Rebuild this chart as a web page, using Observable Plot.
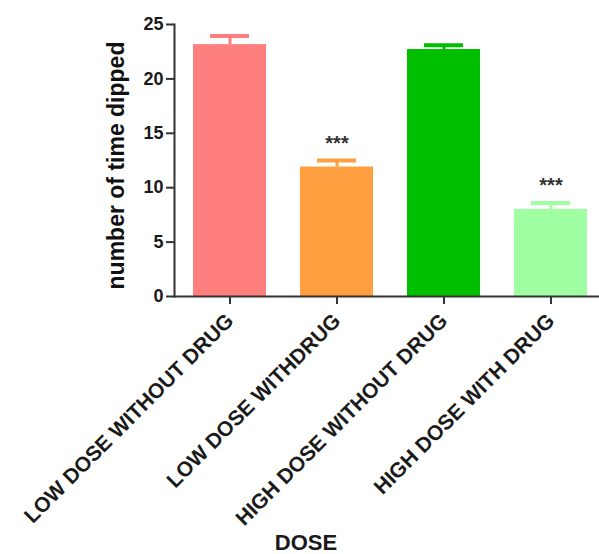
<!DOCTYPE html>
<html>
<head>
<meta charset="utf-8">
<script src="https://cdn.jsdelivr.net/npm/d3@7"></script>
<script src="https://cdn.jsdelivr.net/npm/@observablehq/plot@0.6"></script>
<style>
  html, body { margin: 0; padding: 0; background: #fff; }
  #chart { width: 599px; height: 554px; }
</style>
</head>
<body>
<div id="chart"></div>
<script>
const categories = ["LOW DOSE WITHOUT DRUG", "LOW DOSE WITHDRUG", "HIGH DOSE WITHOUT DRUG", "HIGH DOSE WITH DRUG"];
const means = [23.15, 11.9, 22.7, 8.0];
const sems = [0.8, 0.6, 0.4, 0.6];
const significance = ["", "***", "", "***"];
const yTicks = [0, 5, 10, 15, 20, 25];
const yLabel = "number of time dipped";
const xLabel = "DOSE";

const barColors = ["#FF7F7F", "#FF9F3F", "#00BF00", "#A0FFA0"];

const data = categories.map((c, i) => ({dose: c, mean: means[i], sem: sems[i], sig: significance[i]}));

const chart = Plot.plot({
  width: 599,
  height: 554,
  marginLeft: 174,
  marginRight: 0,
  marginTop: 24,
  marginBottom: 258,
  style: {fontFamily: "'Liberation Sans', Arial, sans-serif", color: "#1a1a1a", background: "#fff", overflow: "visible"},
  x: {domain: categories, paddingInner: 0.32, paddingOuter: 0.1, insetLeft: 6},
  y: {domain: [0, 25]},
  color: {domain: categories, range: barColors},
  marks: [
    Plot.barY(data, {x: "dose", y: "mean", fill: "dose"}),
    Plot.ruleX(data, {x: "dose", y1: "mean", y2: d => d.mean + d.sem, stroke: "dose", strokeWidth: 3}),
    Plot.tickY(data, {x: "dose", y: d => d.mean + d.sem, stroke: "dose", strokeWidth: 4, insetLeft: 17, insetRight: 17}),
    Plot.text(data, {x: "dose", y: d => d.mean + d.sem, text: "sig", dy: -17, fontSize: 20, fontWeight: "bold", fill: "#333", ariaLabel: "significance"}),
    Plot.axisY({ticks: yTicks, tickSize: 8, tickPadding: 3, fontSize: 18, fontWeight: "bold", stroke: "#333", strokeWidth: 2, label: null}),
    Plot.frame({anchor: "left", stroke: "#333", strokeWidth: 2}),
    Plot.text([yLabel], {frameAnchor: "left", textAnchor: "middle", lineAnchor: "middle", rotate: -90, dx: -58, dy: 5, fontSize: 23, fontWeight: "bold", fill: "#111"}),
    Plot.axisX({tickSize: 8, tickPadding: 13, tickRotate: -45, fontSize: 21, fontWeight: "bold", stroke: "#333", strokeWidth: 2, label: null}),
    Plot.ruleY([0], {stroke: "#333", strokeWidth: 2}),
    Plot.text([xLabel], {frameAnchor: "bottom", dx: -81, dy: 253, fontSize: 22, fontWeight: "bold", fill: "#1a1a1a"})
  ]
});

d3.select(chart).selectAll("g[aria-label=significance] text").style("letter-spacing", "2px");
document.getElementById("chart").appendChild(chart);
</script>
</body>
</html>
